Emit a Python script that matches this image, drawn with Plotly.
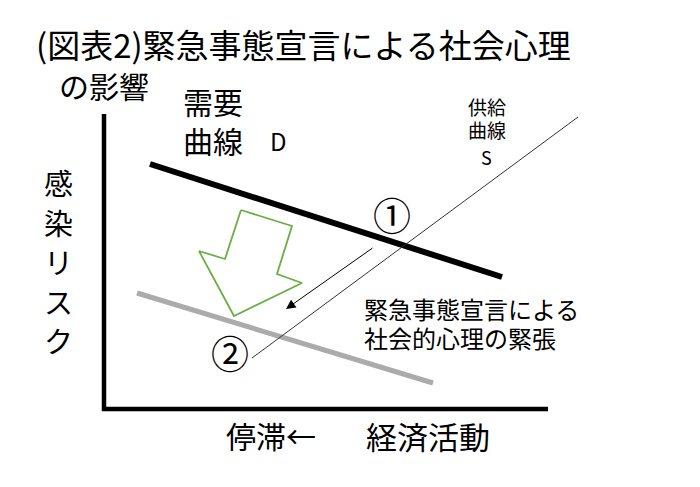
import plotly.graph_objects as go

# coordenadas del esquema (origen en la esquina de los ejes)
eje_x = [0, 444]
eje_y = [0, 295]

demanda_x = [46, 398]
demanda_y = [245, 132]

demanda2_x = [33, 329]
demanda2_y = [116, 26]

oferta_x = [148, 474]
oferta_y = [51, 292]

flecha_x = [137, 188, 173, 198, 130, 95, 121, 137]
flecha_y = [199, 183, 135, 126, 93, 158, 150, 199]

desplaz_inicio = (270, 162)
desplaz_fin = (182, 100)

letras_eje_y = ["感", "染", "リ", "ス", "ク"]

FUENTE = "Noto Sans CJK JP, Noto Sans, sans-serif"

fig = go.Figure()

# ejes
fig.add_trace(go.Scatter(x=[eje_x[0], eje_x[0], eje_x[1]], y=[eje_y[1], eje_y[0], eje_y[0]],
                         mode="lines", line=dict(color="black", width=4.5)))
# curva de demanda D
fig.add_trace(go.Scatter(x=demanda_x, y=demanda_y, mode="lines",
                         line=dict(color="black", width=6)))
# demanda desplazada
fig.add_trace(go.Scatter(x=demanda2_x, y=demanda2_y, mode="lines",
                         line=dict(color="#ABABAB", width=5)))
# curva de oferta S
fig.add_trace(go.Scatter(x=oferta_x, y=oferta_y, mode="lines",
                         line=dict(color="#333333", width=1)))
# flecha verde hueca
fig.add_trace(go.Scatter(x=flecha_x, y=flecha_y, mode="lines",
                         line=dict(color="#6AAE44", width=1.8)))

# flecha pequeña
fig.add_annotation(x=desplaz_fin[0], y=desplaz_fin[1], ax=desplaz_inicio[0], ay=desplaz_inicio[1],
                   xref="x", yref="y", axref="x", ayref="y", text="", showarrow=True,
                   arrowhead=2, arrowsize=1.9, arrowwidth=1, arrowcolor="black")

def texto(x, y, t, size, anchor="left", color="black"):
    fig.add_annotation(x=x, y=y, text=t, showarrow=False, xanchor=anchor, yanchor="middle",
                       font=dict(family=FUENTE, size=size, color=color))

texto(-70, 365, "(図表2)緊急事態宣言による社会心理", 33)
texto(-47, 324, "の影響", 30)
texto(77, 308, "需要", 30)
texto(77, 269, "曲線", 30)
texto(174, 269, "D", 24, anchor="center")
texto(383, 303, "供給", 19, anchor="center")
texto(383, 280, "曲線", 19, anchor="center")
texto(382, 252, "S", 18, anchor="center")
for i, c in enumerate(letras_eje_y):
    texto(-46, 227 - i * 39.5, c, 29, anchor="center")
texto(120, -26, "停滞←", 30)
texto(260, -26, "経済活動", 31)
texto(288, 196, "①", 38, anchor="center")
texto(126, 58, "②", 38, anchor="center")
texto(258, 101, "緊急事態宣言による", 24)
texto(258, 72, "社会的心理の緊張", 24)

# el navegador añade 8 px de margen al cuerpo de la página
fig.update_layout(
    width=700, height=487,
    margin=dict(l=0, r=0, t=0, b=0),
    plot_bgcolor="white", paper_bgcolor="white",
    showlegend=False,
    xaxis=dict(range=[-96, 604], visible=False, fixedrange=True),
    yaxis=dict(range=[-86, 401], visible=False, fixedrange=True),
)

fig.write_html("out.html")
